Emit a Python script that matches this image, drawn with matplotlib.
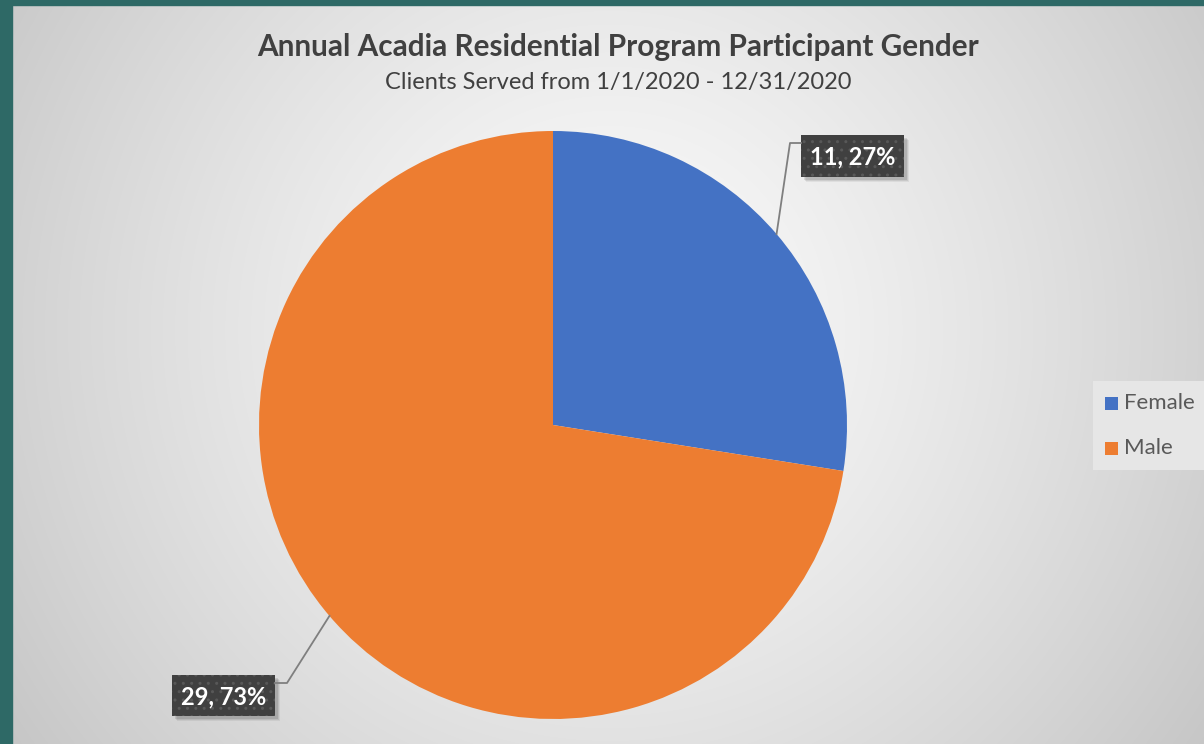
import numpy as np
import matplotlib
matplotlib.use("Agg")
import matplotlib.pyplot as plt
from matplotlib.patches import Rectangle

# ---- data ----
categories = ["Female", "Male"]
counts = [11, 29]
percents = ["27%", "73%"]
colors = ["#4472C4", "#ED7D31"]
title = "Annual Acadia Residential Program Participant Gender"
subtitle = "Clients Served from 1/1/2020 - 12/31/2020"

W, H = 1204, 744
fig = plt.figure(figsize=(W / 100, H / 100), dpi=100)

# ---- background with radial gradient ----
bg = fig.add_axes([0, 0, 1, 1])
bg.set_xlim(0, W)
bg.set_ylim(H, 0)
bg.axis("off")
yy, xx = np.mgrid[0:H, 0:W]
cx, cy = 610, 330
d = np.sqrt((xx - cx) ** 2 + (yy - cy) ** 2) / 720.0
d = np.clip(d, 0, 1)
val = 0.985 - 0.205 * d ** 1.3
img = np.dstack([val, val, val])
bg.imshow(img, extent=[0, W, H, 0], aspect="auto", zorder=0)
# teal frame
bg.add_patch(Rectangle((0, 0), 12, H, color="#2E6966", zorder=1))
bg.add_patch(Rectangle((0, 0), W, 5, color="#2E6966", zorder=1))
# legend backdrop
bg.add_patch(Rectangle((1093, 381), 120, 89, color="#E6E6E6", zorder=1, lw=0))

# ---- titles ----
fig.text(618 / W, 1 - 47 / H, title, ha="center", va="center",
         fontsize=21.4, fontweight="bold", color="#404040", family="Lato")
fig.text(618 / W, 1 - 82 / H, subtitle, ha="center", va="center",
         fontsize=17, color="#404040", family="Lato")

# ---- pie ----
R = 294
pcx, pcy = 553, 425
ax = fig.add_axes([(pcx - R) / W, (H - pcy - R) / H, 2 * R / W, 2 * R / H])
wedges, _ = ax.pie(counts, colors=colors, startangle=90, counterclock=False,
                   radius=1, wedgeprops=dict(linewidth=0))
ax.set_xlim(-1, 1)
ax.set_ylim(-1, 1)
ax.set_aspect("auto")
ax.axis("off")

def to_data(px, py):
    return ((px - pcx) / R, (pcy - py) / R)

# label boxes (left, top, width, height in px) and leader elbows
label_boxes = [(801, 135, 103, 42), (172, 675, 103, 41)]
elbows = [[(790, 143), (801, 143)], [(287, 683), (275, 683)]]

total = sum(counts)
start = 90.0
for i, (c, p) in enumerate(zip(counts, percents)):
    span = 360.0 * c / total
    mid = np.deg2rad(start - span / 2)
    start -= span
    ex, ey = np.cos(mid), np.sin(mid)
    pts = [(ex, ey)] + [to_data(*e) for e in elbows[i]]
    ax.plot([q[0] for q in pts], [q[1] for q in pts], color="#7F7F7F",
            lw=1.3, clip_on=False, zorder=3)
    lx, ty, bw, bh = label_boxes[i]
    # soft shadow
    for k, a in [(5, 0.06), (4, 0.08), (3, 0.1)]:
        bg.add_patch(Rectangle((lx + k, ty + k), bw, bh, fc=(0, 0, 0, a),
                               lw=0, zorder=3))
    bg.add_patch(Rectangle((lx, ty), bw, bh, fc="#404040", lw=0, zorder=4))
    bg.add_patch(Rectangle((lx, ty), bw, bh, fc="none", ec="#585858", lw=0,
                           hatch="..", zorder=4.5))
    bg.text(lx + bw / 2, ty + bh / 2 + 1, f"{c}, {p}", ha="center", va="center",
            fontsize=17, fontweight="bold", color="white", family="Lato",
            zorder=5)

# ---- legend ----
leg_items = [(403, categories[0], colors[0]), (448, categories[1], colors[1])]
for ly, name, col in leg_items:
    bg.add_patch(Rectangle((1105, ly - 6.5), 13, 13, color=col, zorder=2, lw=0))
    bg.text(1124, ly, name, ha="left", va="center", fontsize=16,
            color="#595959", family="Lato", zorder=2)

fig.savefig("out.png", dpi=100)
